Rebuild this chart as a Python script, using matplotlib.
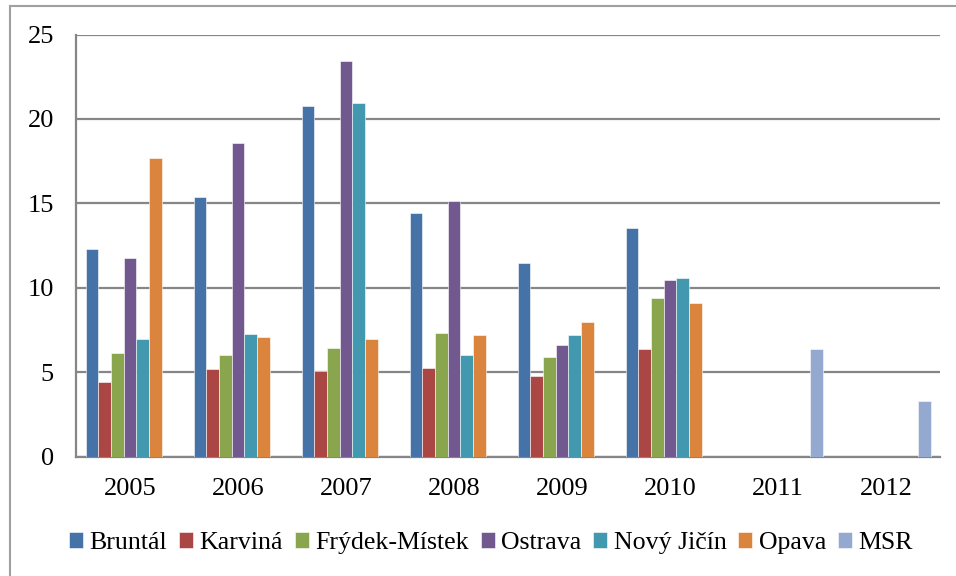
import matplotlib.pyplot as plt
import numpy as np
from matplotlib.lines import Line2D

plt.rcParams['font.family'] = ['Liberation Serif', 'DejaVu Serif']

# --- data ---
roky = ['2005', '2006', '2007', '2008', '2009', '2010', '2011', '2012']
okresy = ['Bruntál', 'Karviná', 'Frýdek-Místek', 'Ostrava', 'Nový Jičín', 'Opava', 'MSR']
bruntal = [12.3, 15.4, 20.75, 14.45, 11.45, 13.55, 0, 0]
karvina = [4.4, 5.2, 5.1, 5.25, 4.8, 6.35, 0, 0]
frydek = [6.15, 6.05, 6.45, 7.3, 5.9, 9.4, 0, 0]
ostrava = [11.75, 18.6, 23.45, 15.15, 6.6, 10.45, 0, 0]
novy_jicin = [6.95, 7.25, 20.95, 6.05, 7.2, 10.6, 0, 0]
opava = [17.7, 7.1, 6.95, 7.2, 8.0, 9.1, 0, 0]
msr = [0, 0, 0, 0, 0, 0, 6.4, 3.3]

serie = [bruntal, karvina, frydek, ostrava, novy_jicin, opava, msr]
barvy = ['#4572A7', '#AA4643', '#89A54E', '#71588F', '#4198AF', '#DB843D', '#93A9CF']

fig = plt.figure(figsize=(9.56, 5.76), dpi=100)
ax = fig.add_axes([0.0795, 0.2071, 0.9038, 0.733])

x = np.arange(len(roky))
w = 1 / 8.5
for i, (vals, c, name) in enumerate(zip(serie, barvy, okresy)):
    ax.bar(x + (i - 3) * w, vals, width=w, color=c, label=name,
           edgecolor='white', linewidth=0.4, zorder=3)

ax.set_xlim(-0.5, len(roky) - 0.5)
ax.set_ylim(0, 25)
ax.set_yticks(range(0, 26, 5))
ax.set_xticks(x)
ax.set_xticklabels(roky)
ax.grid(axis='y', color='#868686', linewidth=1.6, zorder=0)
ax.tick_params(length=0, labelsize=19)
ax.tick_params(axis='y', pad=16)
ax.tick_params(axis='x', pad=15)
for s in ['top', 'right']:
    ax.spines[s].set_visible(False)
for s in ['left', 'bottom']:
    ax.spines[s].set_color('#868686')
    ax.spines[s].set_linewidth(1.6)

fig.legend(loc='center', bbox_to_anchor=(0.5136, 0.057), ncol=7, frameon=False,
           fontsize=18.6, handlelength=0.55, handleheight=0.55,
           handletextpad=0.25, columnspacing=0.45, borderpad=0)

# outer frame of the chart object
fig.add_artist(Line2D([9.5 / 956, 9.5 / 956], [0, 1 - 6 / 576], color='#a0a0a0', linewidth=1.5))
fig.add_artist(Line2D([9.5 / 956, 1], [1 - 6 / 576, 1 - 6 / 576], color='#a0a0a0', linewidth=1.5))

plt.savefig('out.png', dpi=100)
